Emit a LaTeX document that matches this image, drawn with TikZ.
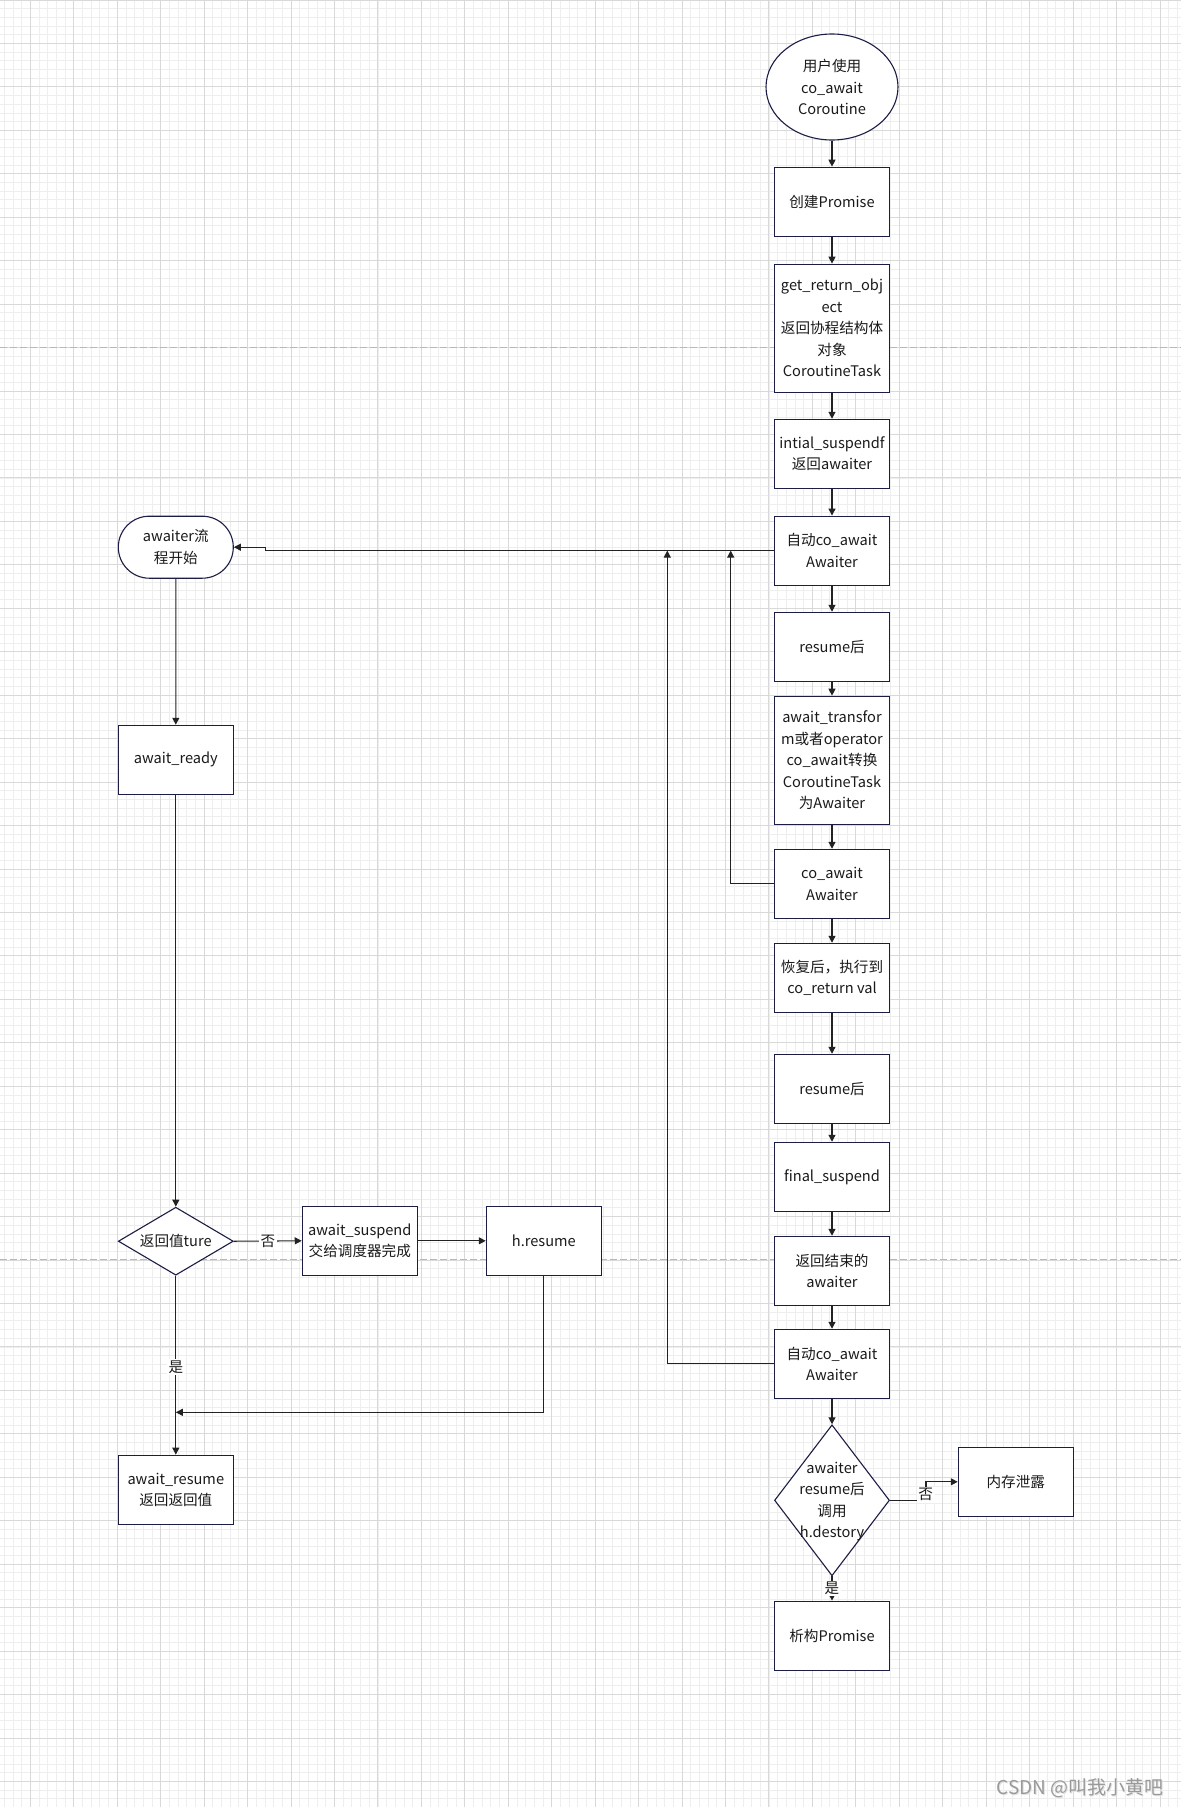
\documentclass[tikz,border=0pt]{standalone}
\usepackage{fontspec}
\usetikzlibrary{shapes.geometric,shapes.misc,arrows.meta}
\newfontfamily\cjk{Noto Sans CJK SC}
\definecolor{boxline}{HTML}{1B1D45}
\definecolor{connc}{HTML}{222222}
\definecolor{txtc}{HTML}{1A1A1A}
\definecolor{gminor}{HTML}{EEEEEE}
\definecolor{gmajor}{HTML}{D9D9D9}
\definecolor{pagebrk}{HTML}{B8B8B8}
\definecolor{wmark}{HTML}{9A9A9A}
\begin{document}
\begin{tikzpicture}[x=1pt,y=-1pt,
  base/.style={draw=boxline, line width=1.1pt, fill=white, text=txtc,
    font=\cjk\fontsize{14.6}{21.5}\selectfont, align=center, inner sep=0pt},
  proc/.style={base, rectangle, minimum width=115pt, minimum height=69pt},
  tallproc/.style={proc, minimum height=128pt},
  startell/.style={base, ellipse, minimum width=132pt, minimum height=106pt},
  stadium/.style={base, rounded rectangle, minimum width=115pt, minimum height=62pt},
  dia/.style={base, diamond, minimum width=115pt},
  diatext/.style={text=txtc, font=\cjk\fontsize{14.6}{21.5}\selectfont, align=center, inner sep=0pt},
  arr/.style={draw=connc, line width=1.1pt, -{Triangle[length=7pt,width=7pt]}},
  lbl/.style={fill=white, text=txtc, font=\cjk\fontsize{14.6}{16}\selectfont, inner sep=1.5pt},
  gmin/.style={draw=gminor, line width=0.9pt},
  gmaj/.style={draw=gmajor, line width=1pt},
  pbreak/.style={draw=pagebrk, line width=1pt, dash pattern=on 7pt off 3pt}
]
\useasboundingbox (0,0) rectangle (1181,1807);
\fill[white] (0,0) rectangle (1181,1807);
% grid
\foreach \i in {0,...,136} {\draw[gmin] ({4.3+8.69*\i},0) -- ({4.3+8.69*\i},1807);}
\foreach \i in {0,...,208} {\draw[gmin] (0,{8.69*\i}) -- (1181,{8.69*\i});}
\foreach \i in {0,...,27} {\draw[gmaj] ({30.3+43.45*\i},0) -- ({30.3+43.45*\i},1807);}
\foreach \i in {0,...,41} {\draw[gmaj] (0,{43.45*\i}) -- (1181,{43.45*\i});}
% page breaks
\draw[pbreak] (0,347.3) -- (1181,347.3);
\draw[pbreak] (0,1259.3) -- (1181,1259.3);

% right column
\node[startell] (start) at (832,87) {用户使用\\co\_await\\Coroutine};
\node[proc] (promise) at (832,201.7) {创建Promise};
\node[tallproc] (getret) at (832,328.2) {get\_return\_obj\\ect\\返回协程结构体\\对象\\CoroutineTask};
\node[proc] (initsusp) at (832,453.8) {intial\_suspendf\\返回awaiter};
\node[proc] (auto1) at (832,550.6) {自动co\_await\\Awaiter};
\node[proc] (resume1) at (832,646.8) {resume后};
\node[tallproc] (transform) at (832,760.2) {await\_transfor\\m或者operator\\co\_await转换\\CoroutineTask\\为Awaiter};
\node[proc] (coawait) at (832,883.8) {co\_await\\Awaiter};
\node[proc] (restore) at (832,977.8) {恢复后，执行到\\co\_return val};
\node[proc] (resume2) at (832,1088.8) {resume后};
\node[proc] (final) at (832,1176.8) {final\_suspend};
\node[proc] (retend) at (832,1270.8) {返回结束的\\awaiter};
\node[proc] (auto2) at (832,1363.8) {自动co\_await\\Awaiter};
\node[dia, minimum height=151pt] (d2) at (832,1500.3) {};
\node[diatext] (d2t) at (832,1501.5) {awaiter\\resume后\\调用\\h.destory};
\node[proc] (destruct) at (832,1635.7) {析构Promise};
\node[proc] (leak) at (1015.8,1481.8) {内存泄露};

% left column
\node[stadium] (flow) at (175.8,547.2) {awaiter流\\程开始};
\node[proc] (ready) at (175.8,759.8) {await\_ready};
\node[dia, minimum height=68pt] (d1) at (175.8,1241.2) {};
\node[diatext] (d1t) at (175.8,1241.2) {返回值ture};
\node[proc] (suspend) at (359.8,1240.8) {await\_suspend\\交给调度器完成};
\node[proc] (hres) at (543.8,1240.8) {h.resume};
\node[proc] (aresume) at (175.8,1489.7) {await\_resume\\返回返回值};

% helper coordinates
\coordinate (j1) at (730.7,550.6);
\coordinate (j2) at (667.3,550.6);
\coordinate (k1) at (265.7,550.6);
\coordinate (k2) at (265.7,547.2);
\coordinate (j3) at (175.8,1412.3);
\coordinate (n1) at (926,1500.3);
\coordinate (n2) at (926,1481.8);

% main chain
\draw[arr] (start) -- (promise);
\draw[arr] (promise) -- (getret);
\draw[arr] (getret) -- (initsusp);
\draw[arr] (initsusp) -- (auto1);
\draw[arr] (auto1) -- (resume1);
\draw[arr] (resume1) -- (transform);
\draw[arr] (transform) -- (coawait);
\draw[arr] (coawait) -- (restore);
\draw[arr] (restore) -- (resume2);
\draw[arr] (resume2) -- (final);
\draw[arr] (final) -- (retend);
\draw[arr] (retend) -- (auto2);
\draw[arr] (auto2) -- (d2);
\draw[arr] (d2) -- node[lbl] (yes2) {是} (destruct);
\draw[arr] (d2.east) -- (n1) -- (n2) -- (leak.west);
\node[lbl] (no2) at (925.7,1494.7) {否};

% back links to awaiter flow
\draw[arr] (auto1.west) -- (k1) -- (k2) -- (flow.east);
\draw[arr] (coawait.west) -| (j1);
\draw[arr] (auto2.west) -| (j2);

% left flow
\draw[arr] (flow) -- (ready);
\draw[arr] (ready) -- (d1);
\draw[arr] (d1.east) -- node[lbl] (no1) {否} (suspend.west);
\draw[arr] (suspend) -- (hres);
\draw[arr] (hres.south) |- (j3);
\draw[arr] (d1.south) -- (aresume.north);
\node[lbl] (yes1) at (175.8,1367.3) {是};

% watermark
\node[text=white!70!wmark, font=\cjk\fontsize{19}{22}\selectfont, inner sep=0pt] (wm0) at (1081,1789) {CSDN @叫我小黄吧};
\node[text=wmark, font=\cjk\fontsize{19}{22}\selectfont, inner sep=0pt] (wm) at (1080,1788) {CSDN @叫我小黄吧};
\end{tikzpicture}
\end{document}
